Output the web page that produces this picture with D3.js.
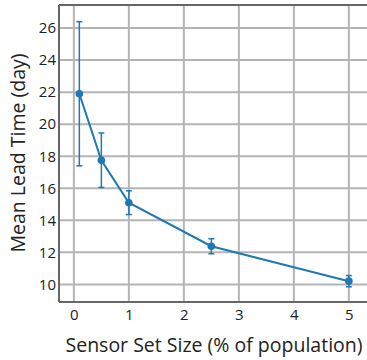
<!DOCTYPE html>
<html><head><meta charset="utf-8">
<script src="https://cdn.jsdelivr.net/npm/d3@7"></script>
<style>body{margin:0;background:#fff}svg{display:block}text{font-family:"Open Sans",sans-serif;fill:#222}</style>
</head><body>
<script>
const sizes = [0.1, 0.5, 1, 2.5, 5];
const meanLead = [21.9, 17.75, 15.1, 12.38, 10.2];
const errLead = [4.5, 1.7, 0.74, 0.47, 0.35];
const xTicks = [0, 1, 2, 3, 4, 5];
const yTicks = [10, 12, 14, 16, 18, 20, 22, 24, 26];

const W = 367, H = 360;
const m = {l: 59, r: 0, t: 5, b: 58};
const svg = d3.select("body").append("svg").attr("width", W).attr("height", H);
const x = d3.scaleLinear().domain([-0.27, 5.33]).range([m.l, W - m.r]);
const y = d3.scaleLinear().domain([8.9, 27.44]).range([H - m.b, m.t]);

const g = svg.append("g");
g.selectAll(".gx").data(xTicks).join("line")
  .attr("x1", d => x(d)).attr("x2", d => x(d)).attr("y1", m.t).attr("y2", H - m.b)
  .attr("stroke", "#b4b4b4").attr("stroke-width", 2);
g.selectAll(".gy").data(yTicks).join("line")
  .attr("y1", d => y(d)).attr("y2", d => y(d)).attr("x1", m.l).attr("x2", W - m.r)
  .attr("stroke", "#b4b4b4").attr("stroke-width", 2);
g.append("line").attr("x1", m.l).attr("x2", m.l).attr("y1", m.t).attr("y2", H - m.b).attr("stroke", "#666").attr("stroke-width", 2);
g.append("line").attr("x1", m.l).attr("x2", W).attr("y1", H - m.b).attr("y2", H - m.b).attr("stroke", "#666").attr("stroke-width", 2);
g.append("line").attr("x1", m.l).attr("x2", W).attr("y1", m.t).attr("y2", m.t).attr("stroke", "#666").attr("stroke-width", 2);

const xa = svg.append("g").attr("transform", `translate(0,${H - m.b})`)
  .call(d3.axisBottom(x).tickValues(xTicks).tickFormat(d3.format("d")).tickSize(0).tickPadding(7));
xa.select(".domain").remove();
xa.selectAll("text").style("font-size", "15px").attr("fill", "#222");
const ya = svg.append("g").attr("transform", `translate(${m.l},0)`)
  .call(d3.axisLeft(y).tickValues(yTicks).tickFormat(d3.format("d")).tickSize(0).tickPadding(3));
ya.select(".domain").remove();
ya.selectAll("text").style("font-size", "15px").attr("fill", "#222");

svg.append("text").attr("x", 214).attr("y", 352).attr("text-anchor", "middle")
  .style("font-size", "19.5px").text("Sensor Set Size (% of population)");
svg.append("text").attr("transform", `translate(25,153) rotate(-90)`).attr("text-anchor", "middle")
  .style("font-size", "19.5px").text("Mean Lead Time (day)");

const color = "#1f77b4";
const data = sizes.map((s, i) => ({x: s, y: meanLead[i], e: errLead[i]}));
const eb = svg.append("g").attr("stroke", color).attr("stroke-width", 1.5);
data.forEach(d => {
  eb.append("line").attr("x1", x(d.x)).attr("x2", x(d.x)).attr("y1", y(d.y - d.e)).attr("y2", y(d.y + d.e));
  eb.append("line").attr("x1", x(d.x) - 3).attr("x2", x(d.x) + 3).attr("y1", y(d.y - d.e)).attr("y2", y(d.y - d.e));
  eb.append("line").attr("x1", x(d.x) - 3).attr("x2", x(d.x) + 3).attr("y1", y(d.y + d.e)).attr("y2", y(d.y + d.e));
});
svg.append("path").datum(data).attr("fill", "none").attr("stroke", color).attr("stroke-width", 2)
  .attr("d", d3.line().x(d => x(d.x)).y(d => y(d.y)));
svg.append("g").selectAll("circle").data(data).join("circle")
  .attr("cx", d => x(d.x)).attr("cy", d => y(d.y)).attr("r", 3.8).attr("fill", color);
</script>
</body></html>
